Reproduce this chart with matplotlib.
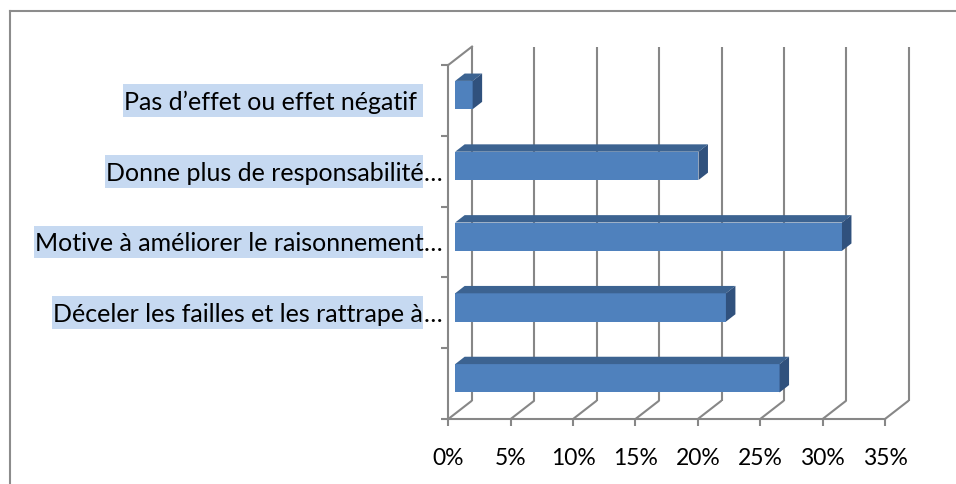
import numpy as np
import matplotlib
matplotlib.use("Agg")
import matplotlib.pyplot as plt
from matplotlib.patches import Polygon, Rectangle
from matplotlib.lines import Line2D

plt.rcParams["font.family"] = ["Lato", "DejaVu Sans"]

# Categories from bottom to top
categories = [
    "",
    "Déceler les failles et les rattrape à…",
    "Motive à améliorer le raisonnement…",
    "Donne plus de responsabilité…",
    "Pas d’effet ou effet négatif ",
]
values = [26.0, 21.7, 31.0, 19.5, 1.4]  # percent
x_ticks = [0, 5, 10, 15, 20, 25, 30, 35]
x_tick_labels = ["0%", "5%", "10%", "15%", "20%", "25%", "30%", "35%"]

W, H = 956, 485
fig = plt.figure(figsize=(W / 100, H / 100), dpi=100)
ax = fig.add_axes([448.3 / W, 65 / H, 436.7 / W, 354 / H])
ax.set_xlim(0, 35)
ax.set_ylim(-0.5, 4.5)
ax.patch.set_visible(False)

GRID = "#878787"
FRONT = "#4F81BD"
TOP = "#3C6391"
SIDE = "#30517D"
HIGHLIGHT = "#C6D9F1"

# oblique depth direction (data units per unit of depth)
DX, DY = 1.9, 0.26


def p(x, y, d):
    return (x + d * DX, y + d * DY)


# back wall and floor gridlines
for xt in x_ticks:
    for a, b in [(p(xt, -0.5, 1), p(xt, 4.5, 1)), (p(xt, -0.5, 0), p(xt, -0.5, 1))]:
        ax.add_line(Line2D([a[0], b[0]], [a[1], b[1]], color=GRID, lw=1.5,
                           clip_on=False, zorder=1, solid_capstyle="butt"))
a, b = p(0, 4.5, 0), p(0, 4.5, 1)
ax.add_line(Line2D([a[0], b[0]], [a[1], b[1]], color=GRID, lw=1.5,
                   clip_on=False, zorder=1))

# 3D bars
d0, d1 = 0.29, 0.69
hh = 0.2
for i, v in enumerate(values):
    x0, y0 = p(0, i - hh, d0)
    ax.add_patch(Rectangle((x0, y0), v, 2 * hh, facecolor=FRONT, edgecolor="none",
                           zorder=3, clip_on=False))
    ax.add_patch(Polygon([p(0, i + hh, d0), p(v, i + hh, d0), p(v, i + hh, d1), p(0, i + hh, d1)],
                         closed=True, facecolor=TOP, edgecolor="none", zorder=3, clip_on=False))
    ax.add_patch(Polygon([p(v, i - hh, d0), p(v, i + hh, d0), p(v, i + hh, d1), p(v, i - hh, d1)],
                         closed=True, facecolor=SIDE, edgecolor="none", zorder=3, clip_on=False))

# axes
for s in ["top", "right"]:
    ax.spines[s].set_visible(False)
for s in ["left", "bottom"]:
    ax.spines[s].set_color(GRID)
    ax.spines[s].set_linewidth(1.5)
ax.set_xticks(x_ticks, x_tick_labels)
ax.set_yticks(np.arange(-0.5, 4.6, 1), [""] * 6)
ax.tick_params(axis="both", direction="out", length=5.2, width=1.5, color=GRID)
ax.tick_params(axis="x", labelsize=16.5, pad=15, labelcolor="black")

# category labels
label_size = 18
texts = []
for i, lab in enumerate(categories):
    if not lab:
        continue
    main = lab.rstrip("…")
    t = ax.annotate(main, xy=(0, i), xytext=(-25, -1), textcoords="offset pixels",
                    ha="right", va="center", fontsize=label_size, zorder=5)
    texts.append((i, t))
    if lab.endswith("…"):
        ax.annotate("…", xy=(0, i), xytext=(-25, -1), textcoords="offset pixels",
                    ha="left", va="center", fontsize=label_size, zorder=5)

fig.canvas.draw()
inv = ax.transData.inverted()
for i, t in texts:
    ext = t.get_window_extent()
    xl = inv.transform((ext.x0 - 1, 0))[0]
    xr = inv.transform((ax.transData.transform((0, 0))[0] - 25, 0))[0]
    ax.add_patch(Rectangle((xl, i - 0.233), xr - xl, 0.466, facecolor=HIGHLIGHT,
                           edgecolor="none", zorder=4, clip_on=False))

# chart frame (top and left edges)
fig.add_artist(Line2D([10 / W, 10 / W], [0, 1 - 12 / H], transform=fig.transFigure,
                      color="#8C8C8C", lw=1.5))
fig.add_artist(Line2D([10 / W, 1], [1 - 12 / H, 1 - 12 / H], transform=fig.transFigure,
                      color="#8C8C8C", lw=1.5))

fig.savefig("out.png", dpi=100, facecolor="white")
